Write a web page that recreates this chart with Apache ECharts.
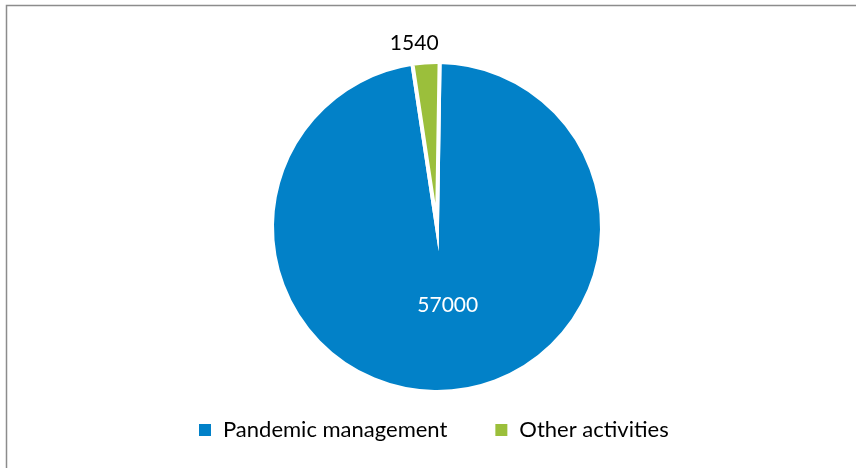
<!DOCTYPE html>
<html>
<head>
<meta charset="utf-8">
<script src="https://cdn.jsdelivr.net/npm/echarts@6/dist/echarts.min.js"></script>
<style>
  html, body { margin: 0; padding: 0; background: #fff; }
  #main { width: 856px; height: 468px; }
</style>
</head>
<body>
<div id="main"></div>
<script>
// categories and values
var categories = ["Pandemic management", "Other activities"];
var values = [57000, 1540];
var colorList = ["#0281c8", "#9bbf3b"];

var chart = echarts.init(document.getElementById("main"));

var pieData = [];
for (var i = 0; i < categories.length; i++) {
  pieData.push({ name: categories[i], value: values[i] });
}
// small slice gets its label outside, big one inside
pieData[0].label = { position: "inside", color: "#fff", offset: [5, -7] };
pieData[1].label = { position: "outside", color: "#000", offset: [18, -13] };
pieData[1].labelLine = { show: false, length: 6, length2: 0 };

var option = {
  animation: false,
  color: colorList,
  textStyle: { fontFamily: "Lato" },
  graphic: [
    {
      type: "rect",
      shape: { x: 6.5, y: 5.5, width: 900, height: 500 },
      style: { fill: "none", stroke: "#8c8c8c", lineWidth: 1.5 },
      silent: true
    }
  ],
  legend: {
    bottom: 22,
    left: 194,
    icon: "rect",
    itemWidth: 12,
    itemHeight: 12,
    itemGap: 48,
    itemStyle: { borderWidth: 0 },
    textStyle: {
      fontSize: 22,
      color: "#000",
      fontFamily: "Lato",
      padding: [0, 0, 0, 7]
    }
  },
  series: [
    {
      type: "pie",
      center: [437, 227],
      radius: [0, 165],
      startAngle: 89.1,
      clockwise: true,
      label: {
        show: true,
        formatter: "{c}",
        fontSize: 21,
        fontFamily: "Lato"
      },
      itemStyle: {
        borderColor: "#fff",
        borderWidth: 4,
        borderJoin: "miter",
        borderMiterLimit: 20
      },
      emphasis: { disabled: true },
      data: pieData
    }
  ]
};
chart.setOption(option);
</script>
</body>
</html>
